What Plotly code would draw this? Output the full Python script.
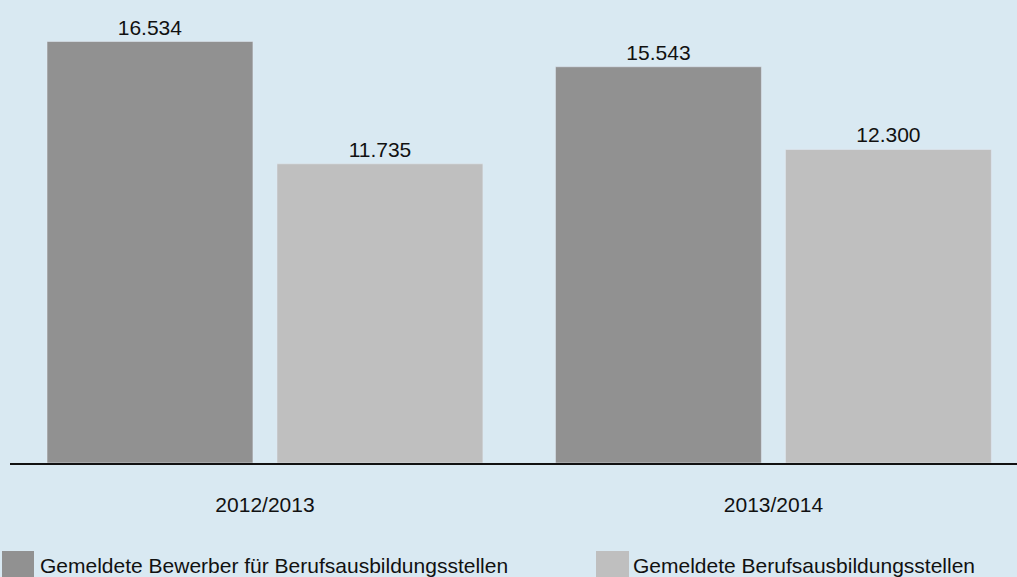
import plotly.graph_objects as go

categories = ["2012/2013", "2013/2014"]
series_names = ["Gemeldete Bewerber für Berufsausbildungsstellen", "Gemeldete Berufsausbildungsstellen"]
bewerber = [16534, 15543]
stellen = [11735, 12300]
colors = ["#919191", "#bfbfbf"]

W, H = 1017, 577
ML, MR, MT, MB = 10, 0, 0, 114
PW = W - ML - MR
PH = H - MT - MB
FS = 21

xpos = list(range(len(categories)))
bar_w = 0.405

fig = go.Figure()
fig.add_trace(go.Bar(x=xpos, y=bewerber, name=series_names[0], marker_color=colors[0],
                     width=bar_w, offset=-0.4287, texttemplate="%{y:,}", textposition="outside",
                     textfont=dict(size=FS, color="#111"), cliponaxis=False, showlegend=False))
fig.add_trace(go.Bar(x=xpos, y=stellen, name=series_names[1], marker_color=colors[1],
                     width=bar_w, offset=0.0236, texttemplate="%{y:,}", textposition="outside",
                     textfont=dict(size=FS, color="#111"), cliponaxis=False, showlegend=False))

def px_x(p):
    return (p - ML) / PW

def px_y(p):
    return (H - MB - p) / PH

shapes = []
annotations = []
leg = [(2, 34, 38), (596, 629, 631)]
for (x0, x1, tx), name, c in zip(leg, series_names, colors):
    shapes.append(dict(type="rect", xref="paper", yref="paper", x0=px_x(x0), x1=px_x(x1),
                       y0=px_y(551), y1=px_y(585), fillcolor=c, line=dict(width=0), layer="above"))
    annotations.append(dict(xref="paper", yref="paper", x=px_x(tx), y=px_y(565.5), text=name,
                            showarrow=False, xanchor="left", yanchor="middle",
                            font=dict(size=FS, color="#111")))

fig.update_layout(
    width=W, height=H,
    margin=dict(l=ML, r=MR, t=MT, b=MB),
    paper_bgcolor="#d9e9f2", plot_bgcolor="#d9e9f2",
    separators=",.",
    font=dict(family="Liberation Sans, Arial, sans-serif", size=FS, color="#111"),
    xaxis=dict(tickmode="array", tickvals=xpos, ticktext=categories, range=[-0.5015, 1.479],
               showline=True, linecolor="#111", linewidth=2, showgrid=False, zeroline=False,
               ticks="", ticklabelstandoff=22, tickfont=dict(size=FS, color="#111")),
    yaxis=dict(visible=False, range=[0, 18162], showgrid=False, zeroline=False),
    shapes=shapes, annotations=annotations,
)
fig.write_html("out.html", config={"displayModeBar": False},
               post_script="document.body.style.margin='0';document.body.style.overflow='hidden';")
